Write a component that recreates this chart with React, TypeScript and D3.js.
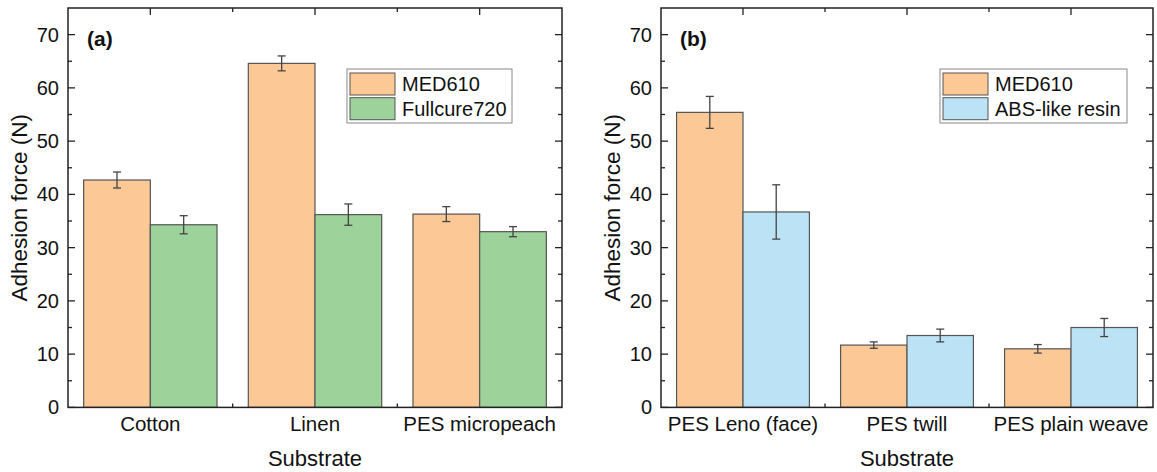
import { useEffect, useRef } from 'react'
import * as d3 from 'd3'

const categoriesA = ['Cotton', 'Linen', 'PES micropeach']
const med610A = [42.7, 64.6, 36.3]
const med610ErrA = [1.5, 1.4, 1.4]
const fullcure = [34.3, 36.2, 33.0]
const fullcureErr = [1.7, 2.0, 0.95]

const categoriesB = ['PES Leno (face)', 'PES twill', 'PES plain weave']
const med610B = [55.4, 11.7, 11.0]
const med610ErrB = [3.0, 0.6, 0.8]
const absLike = [36.7, 13.5, 15.0]
const absLikeErr = [5.1, 1.2, 1.7]

const yTicks = [0, 10, 20, 30, 40, 50, 60, 70]

const ORANGE = '#fcc896'
const GREEN = '#9dd29b'
const BLUE = '#bbe2f5'

const Chart = () => {
    const ref = useRef<SVGSVGElement | null>(null)

    useEffect(() => {
        if (!ref.current) return
        const svg = d3.select(ref.current)
        svg.selectAll('*').remove()

        const top = 8
        const bottom = 407.4
        const font = 'Liberation Sans, Arial, sans-serif'

        const drawPanel = (
            left: number,
            right: number,
            tag: string,
            cats: string[],
            s1: number[],
            e1: number[],
            s2: number[],
            e2: number[],
            name2: string,
            color2: string,
            legendX: number,
            legendW: number
        ) => {
            const g = svg.append('g')
            const x = d3.scaleBand().domain(cats).range([left, right]).paddingInner(0).paddingOuter(0)
            const y = d3.scaleLinear().domain([0, 75]).range([bottom, top])
            const bw = x.bandwidth()
            const barW = bw * 0.405

            // ticks point inward, mirrored on top/right
            const minorY = d3.range(5, 75, 10)
            yTicks.forEach(t => {
                g.append('line').attr('x1', left).attr('x2', left + 7).attr('y1', y(t)).attr('y2', y(t))
                g.append('line').attr('x1', right).attr('x2', right - 7).attr('y1', y(t)).attr('y2', y(t))
                g.append('text')
                    .attr('x', left - 9)
                    .attr('y', y(t) + 7)
                    .attr('text-anchor', 'end')
                    .attr('font-size', 20)
                    .text(t)
            })
            minorY.forEach(t => {
                g.append('line').attr('x1', left).attr('x2', left + 4).attr('y1', y(t)).attr('y2', y(t))
                g.append('line').attr('x1', right).attr('x2', right - 4).attr('y1', y(t)).attr('y2', y(t))
            })
            cats.forEach((c, i) => {
                const cx = x(c)! + bw / 2
                g.append('line').attr('x1', cx).attr('x2', cx).attr('y1', top).attr('y2', top + 7)
                if (i > 0) {
                    const bx = x(c)!
                    g.append('line').attr('x1', bx).attr('x2', bx).attr('y1', top).attr('y2', top + 4)
                    g.append('line').attr('x1', bx).attr('x2', bx).attr('y1', bottom).attr('y2', bottom - 4)
                }
                g.append('text')
                    .attr('x', cx)
                    .attr('y', bottom + 24)
                    .attr('text-anchor', 'middle')
                    .attr('font-size', 20.5)
                    .text(c)
            })
            g.selectAll('line').attr('stroke', '#222').attr('stroke-width', 1.3)

            const series = [
                { vals: s1, errs: e1, color: ORANGE, off: -barW },
                { vals: s2, errs: e2, color: color2, off: 0 },
            ]
            series.forEach(s => {
                cats.forEach((c, i) => {
                    const cx = x(c)! + bw / 2
                    g.append('rect')
                        .attr('x', cx + s.off)
                        .attr('y', y(s.vals[i]))
                        .attr('width', barW)
                        .attr('height', bottom - y(s.vals[i]))
                        .attr('fill', s.color)
                        .attr('stroke', '#555')
                        .attr('stroke-width', 1.2)
                })
            })
            series.forEach(s => {
                cats.forEach((c, i) => {
                    const mx = x(c)! + bw / 2 + s.off + barW / 2
                    const hi = y(s.vals[i] + s.errs[i])
                    const lo = y(s.vals[i] - s.errs[i])
                    const eg = g.append('g').attr('stroke', '#444').attr('stroke-width', 1.3)
                    eg.append('line').attr('x1', mx).attr('x2', mx).attr('y1', hi).attr('y2', lo)
                    eg.append('line').attr('x1', mx - 4).attr('x2', mx + 4).attr('y1', hi).attr('y2', hi)
                    eg.append('line').attr('x1', mx - 4).attr('x2', mx + 4).attr('y1', lo).attr('y2', lo)
                })
            })

            g.append('rect')
                .attr('x', left)
                .attr('y', top)
                .attr('width', right - left)
                .attr('height', bottom - top)
                .attr('fill', 'none')
                .attr('stroke', '#222')
                .attr('stroke-width', 1.5)

            g.append('text')
                .attr('x', left + 19)
                .attr('y', 46)
                .attr('font-size', 21)
                .attr('font-weight', 'bold')
                .text(tag)

            // legend
            const lg = g.append('g')
            lg.append('rect')
                .attr('x', legendX)
                .attr('y', 69)
                .attr('width', legendW)
                .attr('height', 54)
                .attr('fill', 'white')
                .attr('stroke', '#888')
                .attr('stroke-width', 1)
            const items = [
                { name: 'MED610', color: ORANGE },
                { name: name2, color: color2 },
            ]
            items.forEach((it, i) => {
                lg.append('rect')
                    .attr('x', legendX + 3)
                    .attr('y', 73 + i * 24.7)
                    .attr('width', 45)
                    .attr('height', 22)
                    .attr('fill', it.color)
                    .attr('stroke', '#555')
                    .attr('stroke-width', 1)
                lg.append('text')
                    .attr('x', legendX + 55)
                    .attr('y', 91 + i * 24.7)
                    .attr('font-size', 20)
                    .text(it.name)
            })

            g.append('text')
                .attr('x', (left + right) / 2)
                .attr('y', 466)
                .attr('text-anchor', 'middle')
                .attr('font-size', 22)
                .text('Substrate')

            g.append('text')
                .attr('transform', `translate(${left - 41},${(top + bottom) / 2}) rotate(-90)`)
                .attr('text-anchor', 'middle')
                .attr('font-size', 22.5)
                .text('Adhesion force (N)')
        }

        svg.attr('font-family', font).attr('fill', '#111')

        drawPanel(68, 562, '(a)', categoriesA, med610A, med610ErrA, fullcure, fullcureErr,
            'Fullcure720', GREEN, 347, 165)
        drawPanel(661, 1153, '(b)', categoriesB, med610B, med610ErrB, absLike, absLikeErr,
            'ABS-like resin', BLUE, 940, 187)
    }, [])

    return (
        <svg
            ref={ref}
            width={1157}
            height={472}
            style={{ position: 'absolute', left: 0, top: 0, background: 'white' }}
        />
    )
}

export default function App() {
    return <Chart />
}
